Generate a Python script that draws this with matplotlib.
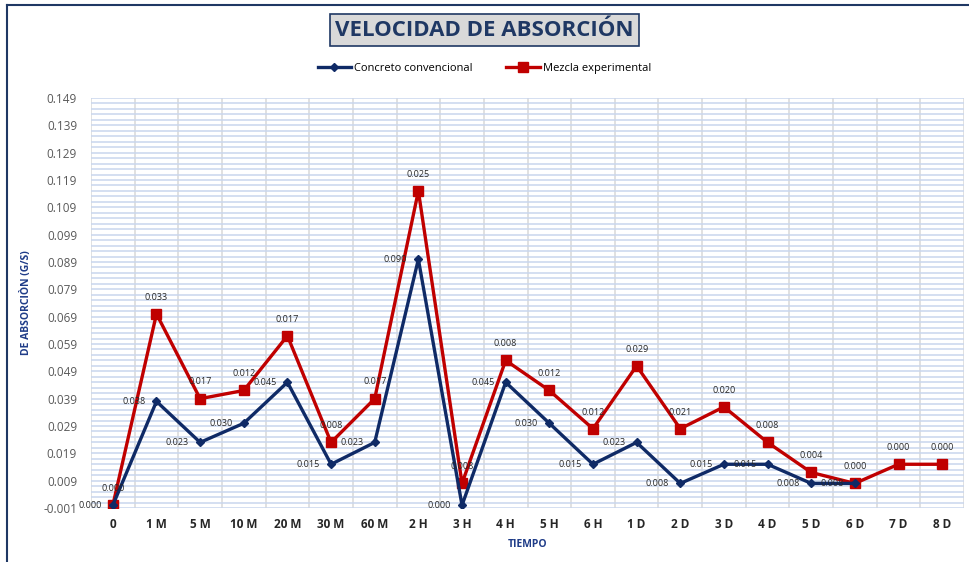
import matplotlib
matplotlib.use('Agg')
import matplotlib.pyplot as plt
import matplotlib.ticker as ticker
import numpy as np

# == data
categorias = ['0', '1 M', '5 M', '10 M', '20 M', '30 M', '60 M', '2 H', '3 H', '4 H',
              '5 H', '6 H', '1 D', '2 D', '3 D', '4 D', '5 D', '6 D', '7 D', '8 D']
concreto = [0.000, 0.038, 0.023, 0.030, 0.045, 0.015, 0.023, 0.090, 0.000, 0.045,
            0.030, 0.015, 0.023, 0.008, 0.015, 0.015, 0.008, 0.008]
mezcla = [0.000, 0.070, 0.039, 0.042, 0.062, 0.023, 0.039, 0.115, 0.008, 0.053,
          0.042, 0.028, 0.051, 0.028, 0.036, 0.023, 0.012, 0.008, 0.015, 0.015]
etq_concreto = ['0.000', '0.038', '0.023', '0.030', '0.045', '0.015', '0.023', '0.090', '0.000',
                '0.045', '0.030', '0.015', '0.023', '0.008', '0.015', '0.015', '0.008', '0.008']
etq_mezcla = ['0.000', '0.033', '0.017', '0.012', '0.017', '0.008', '0.017', '0.025', '0.008', '0.008',
              '0.012', '0.012', '0.029', '0.021', '0.020', '0.008', '0.004', '0.000', '0.000', '0.000']

azul = '#0f2a66'
rojo = '#c00000'
plt.rcParams['font.family'] = ['Open Sans', 'DejaVu Sans']

fig = plt.figure(figsize=(9.69, 5.62), dpi=100)
ax = fig.add_axes([91/969, 1-508/562, 873/969, 410/562])

x1 = np.arange(len(concreto))
x2 = np.arange(len(mezcla))
ax.plot(x1, concreto, color=azul, lw=2.4, marker='D', ms=4.5, label='Concreto convencional', zorder=4)
ax.plot(x2, mezcla, color=rojo, lw=2.4, marker='s', ms=7.5, label='Mezcla experimental', zorder=3)

#data labels
for i, v in enumerate(concreto):
    ax.annotate(etq_concreto[i], (i, v), xytext=(-8, 0), textcoords='offset points',
                ha='right', va='center', fontsize=6.5, color='#262626', zorder=5)
for i, v in enumerate(mezcla):
    ax.annotate(etq_mezcla[i], (i, v), xytext=(0, 12), textcoords='offset points',
                ha='center', va='center', fontsize=6.5, color='#262626', zorder=5)

ax.set_xlim(-0.5, len(categorias) - 0.5)
ax.set_ylim(-0.001, 0.149)
ax.set_xticks(range(len(categorias)))
ax.set_xticklabels(categorias, fontsize=8.5, fontweight='bold', color='#262626')
ax.xaxis.set_minor_locator(ticker.FixedLocator(np.arange(-0.5, len(categorias), 1.0)))
ax.set_yticks(np.arange(-0.001, 0.1495, 0.01))
ax.yaxis.set_major_formatter(ticker.FormatStrFormatter('%.3f'))
ax.yaxis.set_minor_locator(ticker.FixedLocator(np.arange(-0.001, 0.1495, 0.002)))
ax.tick_params(axis='y', labelsize=8.5, labelcolor='#595959', length=0, which='both', pad=10)
ax.tick_params(axis='x', length=0, which='both', pad=7)

ax.grid(True, axis='y', which='both', color='#c9d6ee', lw=1.1)
ax.grid(True, axis='x', which='minor', color='#d9d9d9', lw=1.1)
ax.grid(False, axis='x', which='major')
for s in ax.spines.values():
    s.set_visible(False)

ax.set_xlabel('TIEMPO', fontsize=7.5, fontweight='bold', color='#1f3c88', labelpad=6)
ax.set_ylabel('DE ABSORCIÒN (G/S)', fontsize=7.5, fontweight='bold', color='#1f3c88', labelpad=8)

fig.text(0.5, 1-30/562, 'VELOCIDAD DE ABSORCIÓN', ha='center', va='center', fontsize=16,
         fontweight='bold', color='#1f3864',
         bbox=dict(boxstyle='square,pad=0.25', fc='#d9d9d9', ec='#1f3864', lw=1.2))
fig.legend(loc='center', bbox_to_anchor=(0.5, 1-68/562), ncol=2, frameon=False, fontsize=8,
           handlelength=3, handletextpad=0.3, columnspacing=3)

#chart border (left and top)
fig.add_artist(plt.Line2D([7/969, 7/969], [0, 1-5/562], color='#1f3864', lw=1.5))
fig.add_artist(plt.Line2D([7/969, 1], [1-5/562, 1-5/562], color='#1f3864', lw=1.5))

plt.savefig('out.png', dpi=100)
